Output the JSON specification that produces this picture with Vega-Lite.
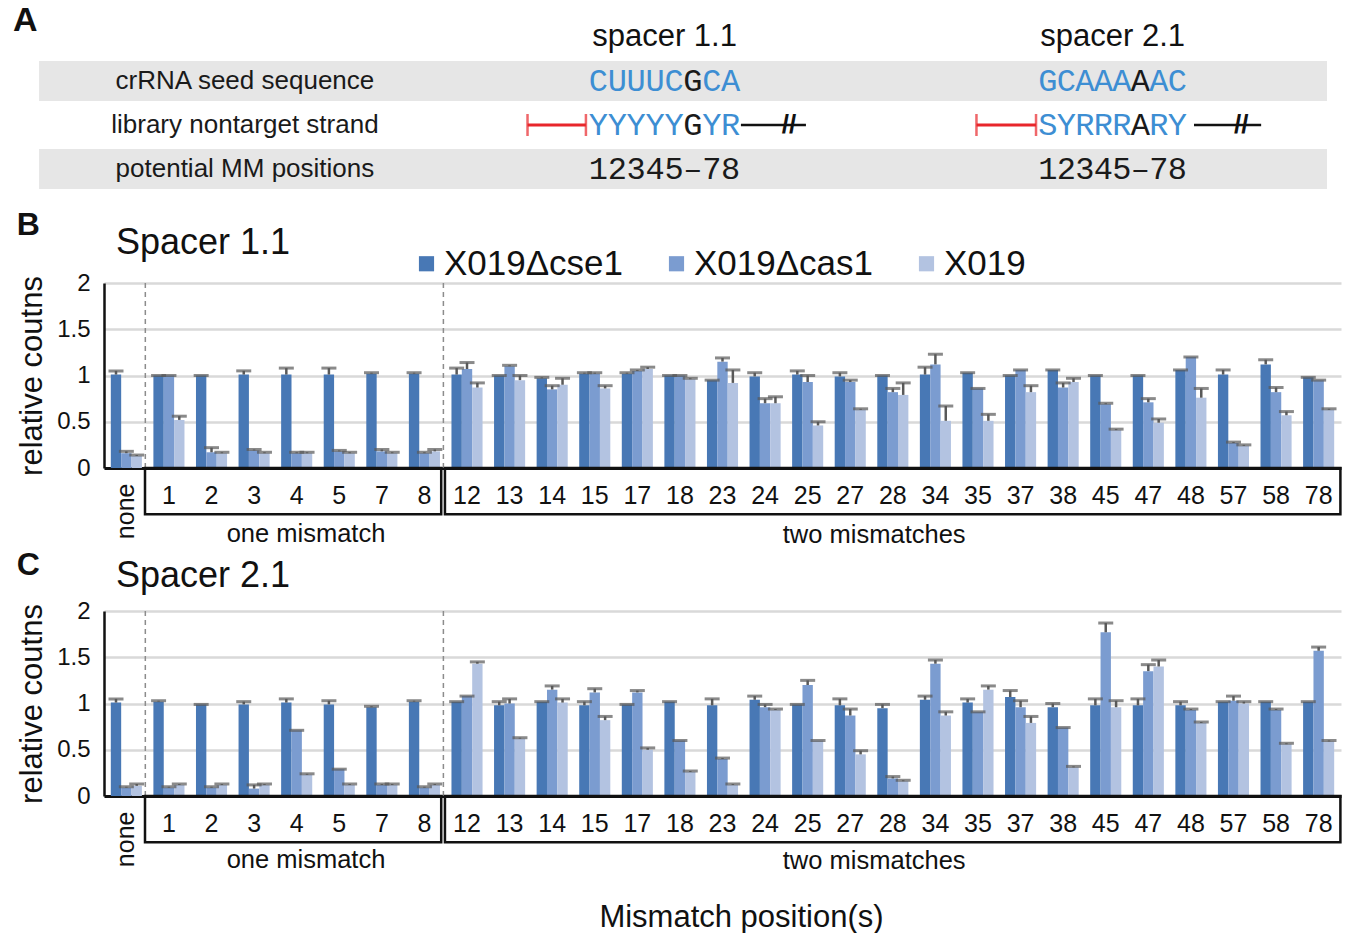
{
  "$schema": "https://vega.github.io/schema/vega-lite/v6.json",
  "background": "white",
  "padding": {"left": 12, "top": 4, "right": 5, "bottom": 0},
  "spacing": 18,
  "resolve": {"scale": {"x": "independent", "y": "independent", "color": "independent", "xOffset": "independent"}, "legend": {"color": "independent"}},
  "datasets": {
    "rows": [
      {"row": "seed", "label": "crRNA seed sequence"},
      {"row": "library", "label": "library nontarget strand"},
      {"row": "mm", "label": "potential MM positions"}
    ],
    "cols": [
      {"sp": "1.1", "header": "spacer 1.1"},
      {"sp": "2.1", "header": "spacer 2.1"}
    ],
    "seq": [
      {"sp": "1.1", "row": "seed", "i": 1, "ch": "C"}, {"sp": "1.1", "row": "seed", "i": 2, "ch": "U"}, {"sp": "1.1", "row": "seed", "i": 3, "ch": "U"}, {"sp": "1.1", "row": "seed", "i": 4, "ch": "U"},
      {"sp": "1.1", "row": "seed", "i": 5, "ch": "C"}, {"sp": "1.1", "row": "seed", "i": 6, "ch": "G"}, {"sp": "1.1", "row": "seed", "i": 7, "ch": "C"}, {"sp": "1.1", "row": "seed", "i": 8, "ch": "A"},
      {"sp": "1.1", "row": "library", "i": 1, "ch": "Y"}, {"sp": "1.1", "row": "library", "i": 2, "ch": "Y"}, {"sp": "1.1", "row": "library", "i": 3, "ch": "Y"}, {"sp": "1.1", "row": "library", "i": 4, "ch": "Y"},
      {"sp": "1.1", "row": "library", "i": 5, "ch": "Y"}, {"sp": "1.1", "row": "library", "i": 6, "ch": "G"}, {"sp": "1.1", "row": "library", "i": 7, "ch": "Y"}, {"sp": "1.1", "row": "library", "i": 8, "ch": "R"},
      {"sp": "1.1", "row": "mm", "i": 1, "ch": "1"}, {"sp": "1.1", "row": "mm", "i": 2, "ch": "2"}, {"sp": "1.1", "row": "mm", "i": 3, "ch": "3"}, {"sp": "1.1", "row": "mm", "i": 4, "ch": "4"},
      {"sp": "1.1", "row": "mm", "i": 5, "ch": "5"}, {"sp": "1.1", "row": "mm", "i": 6, "ch": "–"}, {"sp": "1.1", "row": "mm", "i": 7, "ch": "7"}, {"sp": "1.1", "row": "mm", "i": 8, "ch": "8"},
      {"sp": "2.1", "row": "seed", "i": 1, "ch": "G"}, {"sp": "2.1", "row": "seed", "i": 2, "ch": "C"}, {"sp": "2.1", "row": "seed", "i": 3, "ch": "A"}, {"sp": "2.1", "row": "seed", "i": 4, "ch": "A"},
      {"sp": "2.1", "row": "seed", "i": 5, "ch": "A"}, {"sp": "2.1", "row": "seed", "i": 6, "ch": "A"}, {"sp": "2.1", "row": "seed", "i": 7, "ch": "A"}, {"sp": "2.1", "row": "seed", "i": 8, "ch": "C"},
      {"sp": "2.1", "row": "library", "i": 1, "ch": "S"}, {"sp": "2.1", "row": "library", "i": 2, "ch": "Y"}, {"sp": "2.1", "row": "library", "i": 3, "ch": "R"}, {"sp": "2.1", "row": "library", "i": 4, "ch": "R"},
      {"sp": "2.1", "row": "library", "i": 5, "ch": "R"}, {"sp": "2.1", "row": "library", "i": 6, "ch": "A"}, {"sp": "2.1", "row": "library", "i": 7, "ch": "R"}, {"sp": "2.1", "row": "library", "i": 8, "ch": "Y"},
      {"sp": "2.1", "row": "mm", "i": 1, "ch": "1"}, {"sp": "2.1", "row": "mm", "i": 2, "ch": "2"}, {"sp": "2.1", "row": "mm", "i": 3, "ch": "3"}, {"sp": "2.1", "row": "mm", "i": 4, "ch": "4"},
      {"sp": "2.1", "row": "mm", "i": 5, "ch": "5"}, {"sp": "2.1", "row": "mm", "i": 6, "ch": "–"}, {"sp": "2.1", "row": "mm", "i": 7, "ch": "7"}, {"sp": "2.1", "row": "mm", "i": 8, "ch": "8"}
    ],
    "groups": [
      {"g": "one mismatch", "first": "1", "last": "8"},
      {"g": "two mismatches", "first": "12", "last": "78"}
    ],
    "seps": [{"sep": "none"}, {"sep": "8"}],
    "s11": [
      {"p": "none", "s": "X019Δcse1", "v": 1.01, "hi": 1.05}, {"p": "none", "s": "X019Δcas1", "v": 0.16, "hi": 0.18}, {"p": "none", "s": "X019", "v": 0.13, "hi": 0.14},
      {"p": "1", "s": "X019Δcse1", "v": 1.0, "hi": 1.0}, {"p": "1", "s": "X019Δcas1", "v": 1.0, "hi": 1.0}, {"p": "1", "s": "X019", "v": 0.52, "hi": 0.56},
      {"p": "2", "s": "X019Δcse1", "v": 1.0, "hi": 1.0}, {"p": "2", "s": "X019Δcas1", "v": 0.17, "hi": 0.22}, {"p": "2", "s": "X019", "v": 0.16, "hi": 0.17},
      {"p": "3", "s": "X019Δcse1", "v": 1.01, "hi": 1.05}, {"p": "3", "s": "X019Δcas1", "v": 0.19, "hi": 0.2}, {"p": "3", "s": "X019", "v": 0.16, "hi": 0.17},
      {"p": "4", "s": "X019Δcse1", "v": 1.01, "hi": 1.08}, {"p": "4", "s": "X019Δcas1", "v": 0.16, "hi": 0.17}, {"p": "4", "s": "X019", "v": 0.16, "hi": 0.17},
      {"p": "5", "s": "X019Δcse1", "v": 1.01, "hi": 1.08}, {"p": "5", "s": "X019Δcas1", "v": 0.18, "hi": 0.19}, {"p": "5", "s": "X019", "v": 0.16, "hi": 0.17},
      {"p": "7", "s": "X019Δcse1", "v": 1.02, "hi": 1.03}, {"p": "7", "s": "X019Δcas1", "v": 0.18, "hi": 0.2}, {"p": "7", "s": "X019", "v": 0.16, "hi": 0.17},
      {"p": "8", "s": "X019Δcse1", "v": 1.02, "hi": 1.03}, {"p": "8", "s": "X019Δcas1", "v": 0.16, "hi": 0.17}, {"p": "8", "s": "X019", "v": 0.18, "hi": 0.2},
      {"p": "12", "s": "X019Δcse1", "v": 1.01, "hi": 1.08}, {"p": "12", "s": "X019Δcas1", "v": 1.07, "hi": 1.14}, {"p": "12", "s": "X019", "v": 0.87, "hi": 0.92},
      {"p": "13", "s": "X019Δcse1", "v": 1.0, "hi": 1.0}, {"p": "13", "s": "X019Δcas1", "v": 1.1, "hi": 1.11}, {"p": "13", "s": "X019", "v": 0.95, "hi": 1.0},
      {"p": "14", "s": "X019Δcse1", "v": 0.97, "hi": 0.98}, {"p": "14", "s": "X019Δcas1", "v": 0.85, "hi": 0.89}, {"p": "14", "s": "X019", "v": 0.9, "hi": 0.97},
      {"p": "15", "s": "X019Δcse1", "v": 1.02, "hi": 1.03}, {"p": "15", "s": "X019Δcas1", "v": 1.02, "hi": 1.03}, {"p": "15", "s": "X019", "v": 0.86, "hi": 0.89},
      {"p": "17", "s": "X019Δcse1", "v": 1.02, "hi": 1.03}, {"p": "17", "s": "X019Δcas1", "v": 1.05, "hi": 1.06}, {"p": "17", "s": "X019", "v": 1.07, "hi": 1.09},
      {"p": "18", "s": "X019Δcse1", "v": 1.0, "hi": 1.0}, {"p": "18", "s": "X019Δcas1", "v": 1.0, "hi": 1.0}, {"p": "18", "s": "X019", "v": 0.96, "hi": 0.97},
      {"p": "23", "s": "X019Δcse1", "v": 0.95, "hi": 0.95}, {"p": "23", "s": "X019Δcas1", "v": 1.15, "hi": 1.19}, {"p": "23", "s": "X019", "v": 0.92, "hi": 1.06},
      {"p": "24", "s": "X019Δcse1", "v": 0.99, "hi": 1.03}, {"p": "24", "s": "X019Δcas1", "v": 0.7, "hi": 0.75}, {"p": "24", "s": "X019", "v": 0.7, "hi": 0.77},
      {"p": "25", "s": "X019Δcse1", "v": 1.01, "hi": 1.05}, {"p": "25", "s": "X019Δcas1", "v": 0.93, "hi": 1.0}, {"p": "25", "s": "X019", "v": 0.46, "hi": 0.5},
      {"p": "27", "s": "X019Δcse1", "v": 0.99, "hi": 1.03}, {"p": "27", "s": "X019Δcas1", "v": 0.93, "hi": 0.95}, {"p": "27", "s": "X019", "v": 0.63, "hi": 0.64},
      {"p": "28", "s": "X019Δcse1", "v": 1.0, "hi": 1.0}, {"p": "28", "s": "X019Δcas1", "v": 0.82, "hi": 0.86}, {"p": "28", "s": "X019", "v": 0.79, "hi": 0.92},
      {"p": "34", "s": "X019Δcse1", "v": 1.01, "hi": 1.09}, {"p": "34", "s": "X019Δcas1", "v": 1.12, "hi": 1.23}, {"p": "34", "s": "X019", "v": 0.51, "hi": 0.67},
      {"p": "35", "s": "X019Δcse1", "v": 1.03, "hi": 1.03}, {"p": "35", "s": "X019Δcas1", "v": 0.86, "hi": 0.86}, {"p": "35", "s": "X019", "v": 0.51, "hi": 0.58},
      {"p": "37", "s": "X019Δcse1", "v": 1.0, "hi": 1.0}, {"p": "37", "s": "X019Δcas1", "v": 1.06, "hi": 1.06}, {"p": "37", "s": "X019", "v": 0.82, "hi": 0.89},
      {"p": "38", "s": "X019Δcse1", "v": 1.06, "hi": 1.06}, {"p": "38", "s": "X019Δcas1", "v": 0.87, "hi": 0.92}, {"p": "38", "s": "X019", "v": 0.93, "hi": 0.97},
      {"p": "45", "s": "X019Δcse1", "v": 1.0, "hi": 1.0}, {"p": "45", "s": "X019Δcas1", "v": 0.69, "hi": 0.7}, {"p": "45", "s": "X019", "v": 0.41, "hi": 0.42},
      {"p": "47", "s": "X019Δcse1", "v": 1.0, "hi": 1.0}, {"p": "47", "s": "X019Δcas1", "v": 0.71, "hi": 0.75}, {"p": "47", "s": "X019", "v": 0.49, "hi": 0.53},
      {"p": "48", "s": "X019Δcse1", "v": 1.06, "hi": 1.06}, {"p": "48", "s": "X019Δcas1", "v": 1.2, "hi": 1.2}, {"p": "48", "s": "X019", "v": 0.76, "hi": 0.86},
      {"p": "57", "s": "X019Δcse1", "v": 1.01, "hi": 1.06}, {"p": "57", "s": "X019Δcas1", "v": 0.27, "hi": 0.28}, {"p": "57", "s": "X019", "v": 0.24, "hi": 0.25},
      {"p": "58", "s": "X019Δcse1", "v": 1.12, "hi": 1.17}, {"p": "58", "s": "X019Δcas1", "v": 0.82, "hi": 0.87}, {"p": "58", "s": "X019", "v": 0.57, "hi": 0.61},
      {"p": "78", "s": "X019Δcse1", "v": 0.98, "hi": 0.98}, {"p": "78", "s": "X019Δcas1", "v": 0.95, "hi": 0.95}, {"p": "78", "s": "X019", "v": 0.63, "hi": 0.64}
    ],
    "s21": [
      {"p": "none", "s": "X019Δcse1", "v": 1.01, "hi": 1.05}, {"p": "none", "s": "X019Δcas1", "v": 0.09, "hi": 0.1}, {"p": "none", "s": "X019", "v": 0.11, "hi": 0.13},
      {"p": "1", "s": "X019Δcse1", "v": 1.02, "hi": 1.03}, {"p": "1", "s": "X019Δcas1", "v": 0.09, "hi": 0.1}, {"p": "1", "s": "X019", "v": 0.12, "hi": 0.13},
      {"p": "2", "s": "X019Δcse1", "v": 0.99, "hi": 0.99}, {"p": "2", "s": "X019Δcas1", "v": 0.09, "hi": 0.1}, {"p": "2", "s": "X019", "v": 0.12, "hi": 0.13},
      {"p": "3", "s": "X019Δcse1", "v": 0.99, "hi": 1.02}, {"p": "3", "s": "X019Δcas1", "v": 0.08, "hi": 0.12}, {"p": "3", "s": "X019", "v": 0.12, "hi": 0.13},
      {"p": "4", "s": "X019Δcse1", "v": 1.01, "hi": 1.05}, {"p": "4", "s": "X019Δcas1", "v": 0.71, "hi": 0.71}, {"p": "4", "s": "X019", "v": 0.23, "hi": 0.24},
      {"p": "5", "s": "X019Δcse1", "v": 0.99, "hi": 1.03}, {"p": "5", "s": "X019Δcas1", "v": 0.29, "hi": 0.29}, {"p": "5", "s": "X019", "v": 0.12, "hi": 0.13},
      {"p": "7", "s": "X019Δcse1", "v": 0.96, "hi": 0.97}, {"p": "7", "s": "X019Δcas1", "v": 0.12, "hi": 0.13}, {"p": "7", "s": "X019", "v": 0.12, "hi": 0.13},
      {"p": "8", "s": "X019Δcse1", "v": 1.02, "hi": 1.03}, {"p": "8", "s": "X019Δcas1", "v": 0.09, "hi": 0.1}, {"p": "8", "s": "X019", "v": 0.12, "hi": 0.13},
      {"p": "12", "s": "X019Δcse1", "v": 1.02, "hi": 1.02}, {"p": "12", "s": "X019Δcas1", "v": 1.08, "hi": 1.08}, {"p": "12", "s": "X019", "v": 1.43, "hi": 1.45},
      {"p": "13", "s": "X019Δcse1", "v": 0.98, "hi": 1.02}, {"p": "13", "s": "X019Δcas1", "v": 1.0, "hi": 1.05}, {"p": "13", "s": "X019", "v": 0.62, "hi": 0.63},
      {"p": "14", "s": "X019Δcse1", "v": 1.02, "hi": 1.02}, {"p": "14", "s": "X019Δcas1", "v": 1.15, "hi": 1.19}, {"p": "14", "s": "X019", "v": 1.01, "hi": 1.05},
      {"p": "15", "s": "X019Δcse1", "v": 0.98, "hi": 1.02}, {"p": "15", "s": "X019Δcas1", "v": 1.12, "hi": 1.16}, {"p": "15", "s": "X019", "v": 0.82, "hi": 0.86},
      {"p": "17", "s": "X019Δcse1", "v": 0.99, "hi": 0.99}, {"p": "17", "s": "X019Δcas1", "v": 1.12, "hi": 1.14}, {"p": "17", "s": "X019", "v": 0.5, "hi": 0.52},
      {"p": "18", "s": "X019Δcse1", "v": 1.02, "hi": 1.02}, {"p": "18", "s": "X019Δcas1", "v": 0.6, "hi": 0.6}, {"p": "18", "s": "X019", "v": 0.26, "hi": 0.27},
      {"p": "23", "s": "X019Δcse1", "v": 0.98, "hi": 1.05}, {"p": "23", "s": "X019Δcas1", "v": 0.4, "hi": 0.41}, {"p": "23", "s": "X019", "v": 0.12, "hi": 0.13},
      {"p": "24", "s": "X019Δcse1", "v": 1.04, "hi": 1.08}, {"p": "24", "s": "X019Δcas1", "v": 0.96, "hi": 0.99}, {"p": "24", "s": "X019", "v": 0.93, "hi": 0.94},
      {"p": "25", "s": "X019Δcse1", "v": 0.99, "hi": 0.99}, {"p": "25", "s": "X019Δcas1", "v": 1.2, "hi": 1.25}, {"p": "25", "s": "X019", "v": 0.6, "hi": 0.6},
      {"p": "27", "s": "X019Δcse1", "v": 0.98, "hi": 1.05}, {"p": "27", "s": "X019Δcas1", "v": 0.87, "hi": 0.94}, {"p": "27", "s": "X019", "v": 0.45, "hi": 0.49},
      {"p": "28", "s": "X019Δcse1", "v": 0.95, "hi": 0.99}, {"p": "28", "s": "X019Δcas1", "v": 0.19, "hi": 0.21}, {"p": "28", "s": "X019", "v": 0.16, "hi": 0.17},
      {"p": "34", "s": "X019Δcse1", "v": 1.04, "hi": 1.08}, {"p": "34", "s": "X019Δcas1", "v": 1.43, "hi": 1.47}, {"p": "34", "s": "X019", "v": 0.87, "hi": 0.91},
      {"p": "35", "s": "X019Δcse1", "v": 1.01, "hi": 1.05}, {"p": "35", "s": "X019Δcas1", "v": 0.91, "hi": 0.91}, {"p": "35", "s": "X019", "v": 1.15, "hi": 1.19},
      {"p": "37", "s": "X019Δcse1", "v": 1.07, "hi": 1.14}, {"p": "37", "s": "X019Δcas1", "v": 0.96, "hi": 1.03}, {"p": "37", "s": "X019", "v": 0.79, "hi": 0.86},
      {"p": "38", "s": "X019Δcse1", "v": 0.96, "hi": 1.0}, {"p": "38", "s": "X019Δcas1", "v": 0.74, "hi": 0.74}, {"p": "38", "s": "X019", "v": 0.31, "hi": 0.32},
      {"p": "45", "s": "X019Δcse1", "v": 0.98, "hi": 1.05}, {"p": "45", "s": "X019Δcas1", "v": 1.77, "hi": 1.87}, {"p": "45", "s": "X019", "v": 0.96, "hi": 1.03},
      {"p": "47", "s": "X019Δcse1", "v": 0.98, "hi": 1.05}, {"p": "47", "s": "X019Δcas1", "v": 1.35, "hi": 1.42}, {"p": "47", "s": "X019", "v": 1.4, "hi": 1.47},
      {"p": "48", "s": "X019Δcse1", "v": 0.98, "hi": 1.02}, {"p": "48", "s": "X019Δcas1", "v": 0.93, "hi": 0.94}, {"p": "48", "s": "X019", "v": 0.79, "hi": 0.8},
      {"p": "57", "s": "X019Δcse1", "v": 1.02, "hi": 1.02}, {"p": "57", "s": "X019Δcas1", "v": 1.03, "hi": 1.08}, {"p": "57", "s": "X019", "v": 1.0, "hi": 1.02},
      {"p": "58", "s": "X019Δcse1", "v": 1.02, "hi": 1.02}, {"p": "58", "s": "X019Δcas1", "v": 0.93, "hi": 0.94}, {"p": "58", "s": "X019", "v": 0.56, "hi": 0.57},
      {"p": "78", "s": "X019Δcse1", "v": 1.02, "hi": 1.02}, {"p": "78", "s": "X019Δcas1", "v": 1.57, "hi": 1.61}, {"p": "78", "s": "X019", "v": 0.59, "hi": 0.6}
    ]
  },
  "vconcat": [
    {
      "hconcat": [
        {
          "width": 367, "height": 176,
          "layer": [
            {
              "data": {"name": "rows"},
              "transform": [{"filter": "datum.row !== 'library'"}],
              "mark": {"type": "bar", "color": "#e6e6e6", "height": {"band": 0.91}},
              "encoding": {
                "y": {"field": "row", "type": "nominal", "scale": {"domain": ["header", "seed", "library", "mm"], "paddingInner": 0, "paddingOuter": 0}, "axis": null},
                "x": {"datum": -0.177, "type": "quantitative", "scale": {"domain": [0, 1], "nice": false, "zero": false}, "axis": null},
                "x2": {"datum": 1}
              }
            },
            {
              "data": {"name": "rows"},
              "mark": {"type": "text", "fontSize": 26, "color": "#1a1a1a"},
              "encoding": {
                "y": {"field": "row", "type": "nominal", "axis": null},
                "x": {"datum": 0.384, "type": "quantitative", "axis": null},
                "text": {"field": "label"}
              }
            },
            {
              "data": {"values": [{"panel": "A"}]},
              "mark": {"type": "text", "fontSize": 34, "fontWeight": "bold", "align": "left", "dy": -16, "color": "#111"},
              "encoding": {
                "y": {"datum": "header", "type": "nominal", "axis": null},
                "x": {"datum": -0.248, "type": "quantitative", "axis": null},
                "text": {"field": "panel"}
              }
            }
          ]
        },
        {
          "width": 420, "height": 176,
          "layer": [
            {
              "data": {"name": "rows"},
              "transform": [{"filter": "datum.row !== 'library'"}],
              "mark": {"type": "bar", "color": "#e6e6e6", "height": {"band": 0.91}},
              "encoding": {
                "y": {"field": "row", "type": "nominal", "scale": {"domain": ["header", "seed", "library", "mm"], "paddingInner": 0, "paddingOuter": 0}, "axis": null},
                "x": {"datum": -5.74, "type": "quantitative", "scale": {"domain": [-5.74, 16.48], "nice": false, "zero": false}, "axis": null},
                "x2": {"datum": 16.48}
              }
            },
            {
              "data": {"name": "cols"},
              "transform": [{"filter": "datum.sp === '1.1'"}],
              "mark": {"type": "text", "fontSize": 31, "color": "#111"},
              "encoding": {
                "y": {"datum": "header", "type": "nominal", "axis": null},
                "x": {"datum": 4.5, "type": "quantitative", "axis": null},
                "text": {"field": "header"}
              }
            },
            {
              "data": {"name": "seq"},
              "transform": [{"filter": "datum.sp === '1.1'"}],
              "mark": {"type": "text", "font": "Liberation Mono", "fontSize": 32},
              "encoding": {
                "y": {"field": "row", "type": "nominal", "axis": null},
                "x": {"field": "i", "type": "quantitative", "axis": null},
                "text": {"field": "ch"},
                "color": {"condition": {"test": "datum.row === 'mm' || datum.i === 6", "value": "#1a1a1a"}, "value": "#3d8ed3"}
              }
            },
            {
              "data": {"values": [{}]},
              "mark": {"type": "rule", "color": "#e8262b", "strokeWidth": 3},
              "encoding": {"y": {"datum": "library", "type": "nominal"}, "x": {"datum": -2.75, "type": "quantitative"}, "x2": {"datum": 0.34}}
            },
            {
              "data": {"values": [{}]},
              "mark": {"type": "tick", "color": "#e8262b", "thickness": 2.5, "size": 22},
              "encoding": {"y": {"datum": "library", "type": "nominal"}, "x": {"datum": -2.75, "type": "quantitative"}}
            },
            {
              "data": {"values": [{}]},
              "mark": {"type": "tick", "color": "#e8262b", "thickness": 2.5, "size": 22},
              "encoding": {"y": {"datum": "library", "type": "nominal"}, "x": {"datum": 0.34, "type": "quantitative"}}
            },
            {
              "data": {"values": [{}]},
              "mark": {"type": "rule", "color": "#111", "strokeWidth": 2.5},
              "encoding": {"y": {"datum": "library", "type": "nominal"}, "x": {"datum": 8.54, "type": "quantitative"}, "x2": {"datum": 11.98}}
            },
            {
              "data": {"values": [{}]},
              "mark": {"type": "text", "text": "//", "fontSize": 26, "fontWeight": "bold", "color": "#111"},
              "encoding": {"y": {"datum": "library", "type": "nominal"}, "x": {"datum": 11.08, "type": "quantitative"}}
            }
          ]
        },
        {
          "width": 436, "height": 176,
          "layer": [
            {
              "data": {"name": "rows"},
              "transform": [{"filter": "datum.row !== 'library'"}],
              "mark": {"type": "bar", "color": "#e6e6e6", "height": {"band": 0.91}},
              "encoding": {
                "y": {"field": "row", "type": "nominal", "scale": {"domain": ["header", "seed", "library", "mm"], "paddingInner": 0, "paddingOuter": 0}, "axis": null},
                "x": {"datum": -7.48, "type": "quantitative", "scale": {"domain": [-7.48, 16.09], "nice": false, "zero": false}, "axis": null},
                "x2": {"datum": 16.09}
              }
            },
            {
              "data": {"name": "cols"},
              "transform": [{"filter": "datum.sp === '2.1'"}],
              "mark": {"type": "text", "fontSize": 31, "color": "#111"},
              "encoding": {
                "y": {"datum": "header", "type": "nominal", "axis": null},
                "x": {"datum": 4.5, "type": "quantitative", "axis": null},
                "text": {"field": "header"}
              }
            },
            {
              "data": {"name": "seq"},
              "transform": [{"filter": "datum.sp === '2.1'"}],
              "mark": {"type": "text", "font": "Liberation Mono", "fontSize": 32},
              "encoding": {
                "y": {"field": "row", "type": "nominal", "axis": null},
                "x": {"field": "i", "type": "quantitative", "axis": null},
                "text": {"field": "ch"},
                "color": {"condition": {"test": "datum.row === 'mm' || datum.i === 6", "value": "#1a1a1a"}, "value": "#3d8ed3"}
              }
            },
            {
              "data": {"values": [{}]},
              "mark": {"type": "rule", "color": "#e8262b", "strokeWidth": 3},
              "encoding": {"y": {"datum": "library", "type": "nominal"}, "x": {"datum": -2.86, "type": "quantitative"}, "x2": {"datum": 0.36}}
            },
            {
              "data": {"values": [{}]},
              "mark": {"type": "tick", "color": "#e8262b", "thickness": 2.5, "size": 22},
              "encoding": {"y": {"datum": "library", "type": "nominal"}, "x": {"datum": -2.86, "type": "quantitative"}}
            },
            {
              "data": {"values": [{}]},
              "mark": {"type": "tick", "color": "#e8262b", "thickness": 2.5, "size": 22},
              "encoding": {"y": {"datum": "library", "type": "nominal"}, "x": {"datum": 0.36, "type": "quantitative"}}
            },
            {
              "data": {"values": [{}]},
              "mark": {"type": "rule", "color": "#111", "strokeWidth": 2.5},
              "encoding": {"y": {"datum": "library", "type": "nominal"}, "x": {"datum": 8.9, "type": "quantitative"}, "x2": {"datum": 12.53}}
            },
            {
              "data": {"values": [{}]},
              "mark": {"type": "text", "text": "//", "fontSize": 26, "fontWeight": "bold", "color": "#111"},
              "encoding": {"y": {"datum": "library", "type": "nominal"}, "x": {"datum": 11.45, "type": "quantitative"}}
            }
          ]
        }
      ],
      "spacing": 0,
      "resolve": {"scale": {"x": "independent"}}
    },
    {
      "spacing": 0,
      "resolve": {"scale": {"x": "independent", "y": "independent", "color": "independent", "xOffset": "independent"}, "legend": {"color": "independent"}},
      "vconcat": [
        {
          "title": {"text": "B", "anchor": "start", "frame": "bounds", "fontSize": 32, "fontWeight": "bold", "offset": -17, "color": "#111"},
          "vconcat": [
            {
              "title": {"text": "Spacer 1.1", "anchor": "start", "frame": "group", "dx": 12, "fontSize": 36, "fontWeight": "normal", "offset": 9, "color": "#111"},
              "width": 1237, "height": 185,
              "data": {"name": "s11"},
              "layer": [
                {
                  "mark": {"type": "bar"},
                  "encoding": {
                    "x": {"field": "p", "type": "nominal", "sort": null,
                      "scale": {"domain": ["none","1","2","3","4","5","7","8","12","13","14","15","17","18","23","24","25","27","28","34","35","37","38","45","47","48","57","58","78"], "paddingInner": 0.27, "paddingOuter": 0.16},
                      "axis": {"title": null, "ticks": false, "domainColor": "#111", "domainWidth": 3, "labelFontSize": 25, "labelColor": "#111", "labelPadding": 15,
                        "labelAngle": {"expr": "datum.value === 'none' ? 270 : 0"},
                        "labelAlign": {"condition": {"test": "datum.value === 'none'", "value": "right"}, "value": "center"},
                        "labelBaseline": {"condition": {"test": "datum.value === 'none'", "value": "middle"}, "value": "top"}}},
                    "xOffset": {"field": "s", "type": "nominal", "scale": {"domain": ["X019Δcse1", "X019Δcas1", "X019"], "paddingInner": 0, "paddingOuter": 0}},
                    "y": {"field": "v", "type": "quantitative", "scale": {"domain": [0, 2], "nice": false},
                      "axis": {"values": [0, 0.5, 1, 1.5, 2], "format": "~g", "grid": true, "gridColor": "#d9d9d9", "gridWidth": 2.5, "ticks": false, "domainColor": "#111", "domainWidth": 2.5, "labelFontSize": 24, "labelColor": "#111", "labelPadding": 14, "title": "relative coutns", "titleFontSize": 31, "titleFontWeight": "normal", "titleColor": "#111", "titlePadding": 8}},
                    "color": {"field": "s", "type": "nominal", "scale": {"domain": ["X019Δcse1", "X019Δcas1", "X019"], "range": ["#4878b5", "#7b9cd0", "#b3c3e1"]},
                      "legend": {"orient": "none", "legendX": 305, "legendY": -37, "direction": "horizontal", "columns": 3, "gridAlign": "all", "title": null, "symbolType": "square", "symbolSize": 230, "symbolStrokeWidth": 0, "labelFontSize": 35, "labelColor": "#111", "labelOffset": 0, "columnPadding": 35, "labelLimit": 400}}
                  }
                },
                {
                  "mark": {"type": "rule", "color": "#595959", "strokeWidth": 2.5},
                  "encoding": {
                    "x": {"field": "p", "type": "nominal"},
                    "xOffset": {"field": "s", "type": "nominal"},
                    "y": {"field": "v", "type": "quantitative"},
                    "y2": {"field": "hi"}
                  }
                },
                {
                  "mark": {"type": "tick", "color": "#595959", "thickness": 3, "size": 15},
                  "encoding": {
                    "x": {"field": "p", "type": "nominal"},
                    "xOffset": {"field": "s", "type": "nominal"},
                    "y": {"field": "hi", "type": "quantitative"}
                  }
                },
                {
                  "data": {"name": "seps"},
                  "mark": {"type": "rule", "color": "#8c8c8c", "strokeWidth": 1.5, "strokeDash": [5, 4]},
                  "encoding": {
                    "x": {"field": "sep", "type": "nominal", "bandPosition": 1.11},
                    "y": {"datum": 2, "type": "quantitative"},
                    "y2": {"datum": 0}
                  }
                },
                {
                  "data": {"name": "groups"},
                  "transform": [{"filter": "datum.g === 'one mismatch'"}],
                  "mark": {"type": "rect", "fillOpacity": 0, "stroke": "#111", "strokeWidth": 2.5},
                  "encoding": {"x": {"field": "first", "type": "nominal", "bandPosition": -0.27}, "x2": {"field": "last", "bandPosition": 1.04}, "y": {"datum": 0, "type": "quantitative"}, "y2": {"datum": -0.5}}
                },
                {
                  "data": {"name": "groups"},
                  "transform": [{"filter": "datum.g === 'two mismatches'"}],
                  "mark": {"type": "rect", "fillOpacity": 0, "stroke": "#111", "strokeWidth": 2.5},
                  "encoding": {"x": {"field": "first", "type": "nominal", "bandPosition": -0.21}, "x2": {"field": "last", "bandPosition": 1.2}, "y": {"datum": 0, "type": "quantitative"}, "y2": {"datum": -0.5}}
                },
                {
                  "data": {"values": [{"g": "one mismatch"}]},
                  "mark": {"type": "text", "fontSize": 25.5, "color": "#111"},
                  "encoding": {"x": {"datum": "4", "type": "nominal", "bandPosition": 0.8}, "y": {"datum": -0.71, "type": "quantitative"}, "text": {"field": "g"}}
                },
                {
                  "data": {"values": [{"g": "two mismatches"}]},
                  "mark": {"type": "text", "fontSize": 25.5, "color": "#111"},
                  "encoding": {"x": {"datum": "28", "type": "nominal", "bandPosition": -0.1}, "y": {"datum": -0.72, "type": "quantitative"}, "text": {"field": "g"}}
                }
              ]
            }
          ]
        },
        {
          "title": {"text": "C", "anchor": "start", "frame": "bounds", "fontSize": 32, "fontWeight": "bold", "offset": -24, "color": "#111"},
          "vconcat": [
            {
              "title": {"text": "Spacer 2.1", "anchor": "start", "frame": "group", "dx": 12, "fontSize": 36, "fontWeight": "normal", "offset": 4, "color": "#111"},
              "width": 1237, "height": 185,
              "data": {"name": "s21"},
              "layer": [
                {
                  "mark": {"type": "bar"},
                  "encoding": {
                    "x": {"field": "p", "type": "nominal", "sort": null,
                      "scale": {"domain": ["none","1","2","3","4","5","7","8","12","13","14","15","17","18","23","24","25","27","28","34","35","37","38","45","47","48","57","58","78"], "paddingInner": 0.27, "paddingOuter": 0.16},
                      "axis": {"title": "Mismatch position(s)", "titleFontSize": 31, "titleFontWeight": "normal", "titleColor": "#111", "titlePadding": 36, "titleX": 637, "ticks": false, "domainColor": "#111", "domainWidth": 3, "labelFontSize": 25, "labelColor": "#111", "labelPadding": 15,
                        "labelAngle": {"expr": "datum.value === 'none' ? 270 : 0"},
                        "labelAlign": {"condition": {"test": "datum.value === 'none'", "value": "right"}, "value": "center"},
                        "labelBaseline": {"condition": {"test": "datum.value === 'none'", "value": "middle"}, "value": "top"}}},
                    "xOffset": {"field": "s", "type": "nominal", "scale": {"domain": ["X019Δcse1", "X019Δcas1", "X019"], "paddingInner": 0, "paddingOuter": 0}},
                    "y": {"field": "v", "type": "quantitative", "scale": {"domain": [0, 2], "nice": false},
                      "axis": {"values": [0, 0.5, 1, 1.5, 2], "format": "~g", "grid": true, "gridColor": "#d9d9d9", "gridWidth": 2.5, "ticks": false, "domainColor": "#111", "domainWidth": 2.5, "labelFontSize": 24, "labelColor": "#111", "labelPadding": 14, "title": "relative coutns", "titleFontSize": 31, "titleFontWeight": "normal", "titleColor": "#111", "titlePadding": 8}},
                    "color": {"field": "s", "type": "nominal", "scale": {"domain": ["X019Δcse1", "X019Δcas1", "X019"], "range": ["#4878b5", "#7b9cd0", "#b3c3e1"]}, "legend": null}
                  }
                },
                {
                  "mark": {"type": "rule", "color": "#595959", "strokeWidth": 2.5},
                  "encoding": {
                    "x": {"field": "p", "type": "nominal"},
                    "xOffset": {"field": "s", "type": "nominal"},
                    "y": {"field": "v", "type": "quantitative"},
                    "y2": {"field": "hi"}
                  }
                },
                {
                  "mark": {"type": "tick", "color": "#595959", "thickness": 3, "size": 15},
                  "encoding": {
                    "x": {"field": "p", "type": "nominal"},
                    "xOffset": {"field": "s", "type": "nominal"},
                    "y": {"field": "hi", "type": "quantitative"}
                  }
                },
                {
                  "data": {"name": "seps"},
                  "mark": {"type": "rule", "color": "#8c8c8c", "strokeWidth": 1.5, "strokeDash": [5, 4]},
                  "encoding": {
                    "x": {"field": "sep", "type": "nominal", "bandPosition": 1.11},
                    "y": {"datum": 2, "type": "quantitative"},
                    "y2": {"datum": 0}
                  }
                },
                {
                  "data": {"name": "groups"},
                  "transform": [{"filter": "datum.g === 'one mismatch'"}],
                  "mark": {"type": "rect", "fillOpacity": 0, "stroke": "#111", "strokeWidth": 2.5},
                  "encoding": {"x": {"field": "first", "type": "nominal", "bandPosition": -0.27}, "x2": {"field": "last", "bandPosition": 1.04}, "y": {"datum": 0, "type": "quantitative"}, "y2": {"datum": -0.5}}
                },
                {
                  "data": {"name": "groups"},
                  "transform": [{"filter": "datum.g === 'two mismatches'"}],
                  "mark": {"type": "rect", "fillOpacity": 0, "stroke": "#111", "strokeWidth": 2.5},
                  "encoding": {"x": {"field": "first", "type": "nominal", "bandPosition": -0.21}, "x2": {"field": "last", "bandPosition": 1.2}, "y": {"datum": 0, "type": "quantitative"}, "y2": {"datum": -0.5}}
                },
                {
                  "data": {"values": [{"g": "one mismatch"}]},
                  "mark": {"type": "text", "fontSize": 25.5, "color": "#111"},
                  "encoding": {"x": {"datum": "4", "type": "nominal", "bandPosition": 0.8}, "y": {"datum": -0.69, "type": "quantitative"}, "text": {"field": "g"}}
                },
                {
                  "data": {"values": [{"g": "two mismatches"}]},
                  "mark": {"type": "text", "fontSize": 25.5, "color": "#111"},
                  "encoding": {"x": {"datum": "28", "type": "nominal", "bandPosition": -0.1}, "y": {"datum": -0.7, "type": "quantitative"}, "text": {"field": "g"}}
                }
              ]
            }
          ]
        }
      ]
    }
  ],
  "config": {
    "font": "Liberation Sans",
    "view": {"stroke": null},
    "axis": {"labelFont": "Liberation Sans", "titleFont": "Liberation Sans"},
    "title": {"font": "Liberation Sans"},
    "legend": {"labelFont": "Liberation Sans"}
  }
}
